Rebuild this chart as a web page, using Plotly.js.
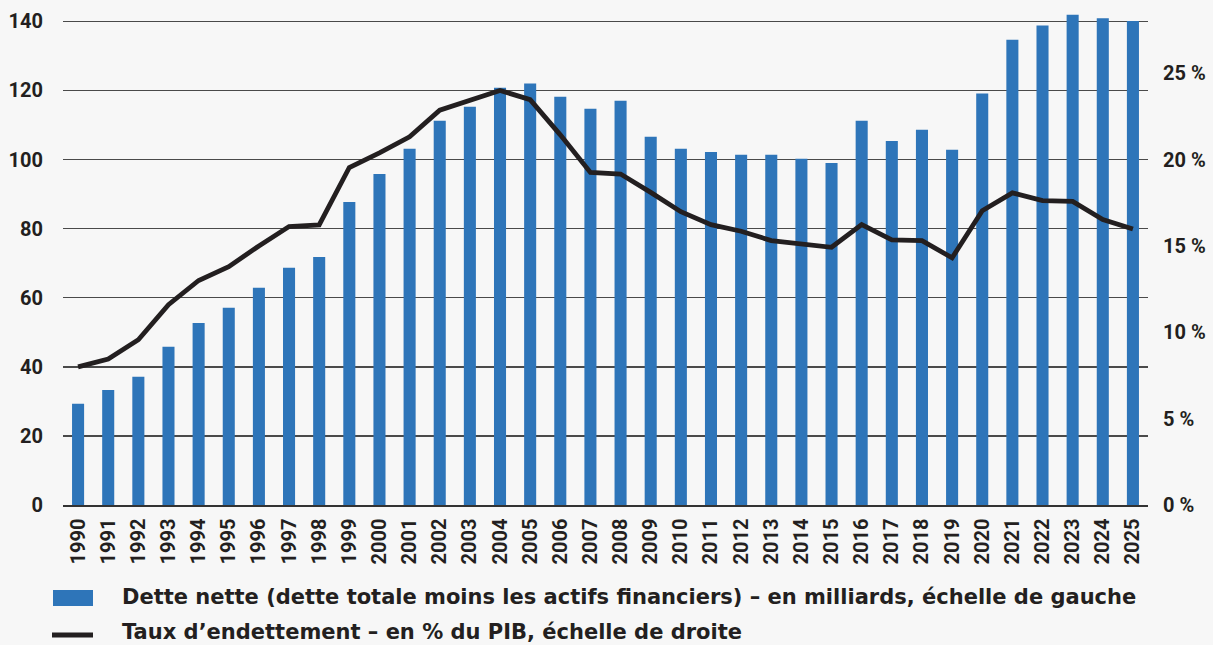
<!DOCTYPE html>
<html>
<head>
<meta charset="utf-8">
<script src="https://cdn.plot.ly/plotly-3.0.1.min.js"></script>
<style>
html,body{margin:0;padding:0;background:#f7f7f7;}
#chart{width:1213px;height:645px;}
</style>
</head>
<body>
<div id="chart"></div>
<script>
const years = ["1990","1991","1992","1993","1994","1995","1996","1997","1998","1999","2000","2001","2002","2003","2004","2005","2006","2007","2008","2009","2010","2011","2012","2013","2014","2015","2016","2017","2018","2019","2020","2021","2022","2023","2024","2025"];
const detteNette = [29.3,33.3,37.1,45.8,52.7,57.1,62.9,68.7,71.8,87.7,95.8,103.1,111.2,115.3,120.8,122.0,118.2,114.7,117.0,106.6,103.1,102.2,101.4,101.4,100.2,99.0,111.2,105.4,108.6,102.8,119.1,134.7,138.8,141.9,140.9,140.1];
const tauxEndettement = [8.0,8.45,9.57,11.6,13.0,13.8,15.0,16.12,16.22,19.54,20.39,21.32,22.86,23.4,24.0,23.47,21.43,19.25,19.16,18.1,16.98,16.23,15.85,15.31,15.15,14.92,16.23,15.35,15.31,14.31,17.04,18.07,17.62,17.58,16.52,15.98];
const leftTicks = [0,20,40,60,80,100,120,140];
const rightTicks = [0,5,10,15,20,25];
const rightTickText = ["0 %","5 %","10 %","15 %","20 %","25 %"];
const legendBar = "Dette nette (dette totale moins les actifs financiers) – en milliards, échelle de gauche";
const legendLine = "Taux d’endettement – en % du PIB, échelle de droite";

const FONT = "Roboto, 'DejaVu Sans', sans-serif";
const LEGFONT = "'DejaVu Sans', Roboto, sans-serif";
const TXT = "#231f20";
const BLUE = "#2E75B9";

const W = 1213, H = 645;
const L = 63, R = 65, T = 11, B = 140;
const pw = W - L - R, ph = H - T - B;
const px = x => (x - L) / pw;
const py = y => (H - B - y) / ph;

const data = [
  {type:"bar", x:years, y:detteNette, marker:{color:BLUE}, width:0.4, name:legendBar, yaxis:"y"},
  {type:"scatter", mode:"lines", x:years, y:tauxEndettement, line:{color:TXT, width:4.8}, name:legendLine, yaxis:"y2"}
];

const layout = {
  width:W, height:H,
  margin:{l:L, r:R, t:T, b:B, pad:0},
  paper_bgcolor:"#f7f7f7", plot_bgcolor:"#f7f7f7",
  showlegend:false,
  font:{family:FONT, color:TXT, size:18, weight:700},
  xaxis:{type:"category", tickangle:-90, showgrid:false, showline:true, linecolor:"#333", linewidth:1.5,
         ticks:"outside", ticklen:4, tickcolor:"rgba(0,0,0,0)", tickfont:{family:FONT, size:20, color:TXT, weight:700}, automargin:false},
  yaxis:{range:[0,143], tickvals:leftTicks, showgrid:true, gridcolor:"#4a4a4a", gridwidth:1.5, zeroline:false,
         showline:false, ticks:"", ticklabelstandoff:19, tickfont:{family:FONT, size:20, color:TXT, weight:700}, automargin:false},
  yaxis2:{range:[0,28.6], overlaying:"y", side:"right", tickvals:rightTicks, ticktext:rightTickText, showgrid:false,
          zeroline:false, showline:false, ticks:"", ticklabelstandoff:14, tickfont:{family:FONT, size:20, color:TXT, weight:700}, automargin:false},
  shapes:[
    {type:"rect", xref:"paper", yref:"paper", x0:px(53), x1:px(93), y0:py(606), y1:py(590), fillcolor:BLUE, line:{width:0}},
    {type:"line", xref:"paper", yref:"paper", x0:px(52), x1:px(93), y0:py(635), y1:py(635), line:{color:TXT, width:5}}
  ],
  annotations:[
    {xref:"paper", yref:"paper", x:px(120), y:py(597), xanchor:"left", yanchor:"middle", showarrow:false, text:legendBar,
     font:{family:LEGFONT, size:21, color:TXT, weight:700}},
    {xref:"paper", yref:"paper", x:px(120), y:py(632), xanchor:"left", yanchor:"middle", showarrow:false, text:legendLine,
     font:{family:LEGFONT, size:21, color:TXT, weight:700}}
  ]
};

Plotly.newPlot("chart", data, layout, {displayModeBar:false, staticPlot:true});
</script>
</body>
</html>
